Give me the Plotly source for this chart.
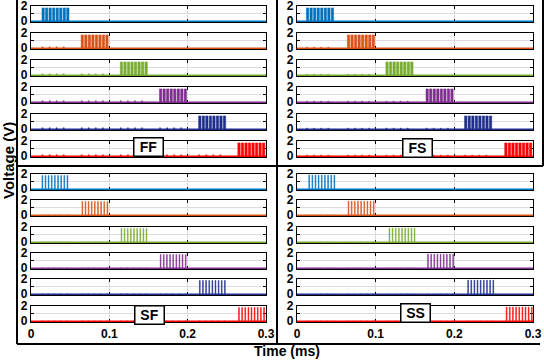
import plotly.graph_objects as go

W, H = 544, 360

# ---------- data ----------
time_span = [0.0, 0.3]                      # ms
time_ticks = [0.0, 0.1, 0.2, 0.3]
time_ticktext = ['0', '0.1', '0.2', '0.3']
volt_ticks = [0, 1, 2]
volt_ticktext = ['0', '', '2']

channel_colors = ['#0072BD', '#D95319', '#77AC30', '#7E2F8E', '#1F2F8F', '#FF0000']
panel_names = ['FF', 'FS', 'SF', 'SS']

# start of each channel's burst (ms)
burst_starts = {
    'FF': [0.014, 0.064, 0.114, 0.164, 0.214, 0.264],
    'FS': [0.012, 0.064, 0.113, 0.164, 0.213, 0.264],
    'SF': [0.014, 0.065, 0.115, 0.165, 0.215, 0.265],
    'SS': [0.015, 0.065, 0.117, 0.166, 0.217, 0.266],
}
# pulse positions inside a burst (ms)
fast_offsets = [0.0, 0.0045, 0.009, 0.0135, 0.018, 0.0225, 0.027, 0.0315]
slow_offsets = [0.0, 0.004, 0.008, 0.012, 0.016, 0.020, 0.024, 0.028, 0.032]
pulse_offsets = {'FF': fast_offsets, 'FS': fast_offsets, 'SF': slow_offsets, 'SS': slow_offsets}
pulse_width = {'FF': 0.003, 'FS': 0.003, 'SF': 0.001, 'SS': 0.001}
pulse_height = {'FF': 1.75, 'FS': 1.75, 'SF': 1.8, 'SS': 1.85}
# small coupled glitches during the earlier channels' bursts (V)
crosstalk_height = {'FF': 0.18, 'FS': 0.14, 'SF': 0.1, 'SS': 0.08}


def waveform(name, ch):
    starts = burst_starts[name]
    offs = pulse_offsets[name]
    w = pulse_width[name]
    pulses = []
    for s in starts[:ch]:
        for o in offs[::2]:
            pulses.append((s + o, crosstalk_height[name], w * 0.5))
    for o in offs:
        pulses.append((starts[ch] + o, pulse_height[name], w))
    pulses.sort()
    xs, ys = [], []
    for t, h, pw in pulses:
        xs += [t, t, t + pw, t + pw, None]
        ys += [0, h, h, 0, None]
    return xs, ys


# ---------- layout geometry (pixels) ----------
col_x = [(31, 266), (297, 533)]
row_tops = [[6, 33, 60, 87, 114, 141], [174, 200, 227, 253, 279, 306]]
sub_h = 16
panel_pos = {'FF': (0, 0), 'FS': (0, 1), 'SF': (1, 0), 'SS': (1, 1)}

fig = go.Figure()
bold = dict(family='Liberation Sans, Arial', size=12, color='black', weight='bold')
layout = {}

n = 0
for name in panel_names:
    r, c = panel_pos[name]
    for ch in range(6):
        n += 1
        xs, ys = waveform(name, ch)
        sfx = '' if n == 1 else str(n)
        col = channel_colors[ch]
        fig.add_trace(go.Scatter(
            x=xs, y=ys, mode='lines', fill='toself',
            line=dict(color=col, width=0.5), fillcolor=col,
            xaxis='x' + sfx, yaxis='y' + sfx, hoverinfo='skip'))
        fig.add_trace(go.Scatter(
            x=time_span, y=[0, 0], mode='lines',
            line=dict(color=col, width=1.6),
            xaxis='x' + sfx, yaxis='y' + sfx, hoverinfo='skip'))
        top = row_tops[r][ch]
        x0, x1 = col_x[c]
        last = (ch == 5 and r == 1)
        common = dict(ticks='inside', ticklen=3, tickcolor='black', tickfont=bold,
                      showline=True, linecolor='black', linewidth=1.2, mirror='ticks',
                      showgrid=True, gridcolor='#dddddd', gridwidth=1, zeroline=False,
                      layer='below traces', automargin=False, ticklabeloverflow='allow')
        layout['xaxis' + sfx] = dict(
            domain=[x0 / W, x1 / W], anchor='y' + sfx, range=time_span,
            tickvals=time_ticks, ticktext=time_ticktext, showticklabels=last,
            **common)
        layout['yaxis' + sfx] = dict(
            domain=[1 - (top + sub_h) / H, 1 - top / H], anchor='x' + sfx,
            range=[-0.1, 2.0], tickvals=volt_ticks, ticktext=volt_ticktext,
            **common)

# panel labels
label_pos = {'FF': (148, 147), 'FS': (417, 148), 'SF': (149, 315), 'SS': (415, 313)}
big = dict(family='Liberation Sans, Arial', size=14, color='black', weight='bold')
annotations = []
for name in panel_names:
    px, py = label_pos[name]
    annotations.append(dict(
        x=px / W, y=1 - py / H, xref='paper', yref='paper', text=name,
        xanchor='center', yanchor='middle', showarrow=False, font=big,
        bgcolor='white', bordercolor='black', borderwidth=1.5, borderpad=1,
        width=26, height=15))
annotations.append(dict(
    x=8 / W, y=1 - 161 / H, xref='paper', yref='paper', text='Voltage (V)',
    xanchor='center', yanchor='middle', textangle=-90, showarrow=False,
    font=dict(big, size=15)))
annotations.append(dict(
    x=287 / W, y=1 - 351 / H, xref='paper', yref='paper', text='Time (ms)',
    xanchor='center', yanchor='middle', showarrow=False,
    font=dict(big, size=14)))

# frame lines between the four panels
frame = [(17, 0, 17, 344), (17, 344, 540, 344), (277, 0, 277, 344),
         (17, 166, 543, 166), (543, 0, 543, 166)]
shapes = [dict(type='line', xref='paper', yref='paper',
               x0=a / W, y0=1 - b / H, x1=c / W, y1=1 - d / H,
               line=dict(color='black', width=2)) for a, b, c, d in frame]

fig.update_layout(
    width=W, height=H, margin=dict(l=0, r=0, t=0, b=0, autoexpand=False),
    paper_bgcolor='white', plot_bgcolor='white', showlegend=False,
    font=bold, annotations=annotations, shapes=shapes, **layout)

fig.write_html('out.html', config={'displayModeBar': False},
               post_script="document.body.style.margin='0';")
